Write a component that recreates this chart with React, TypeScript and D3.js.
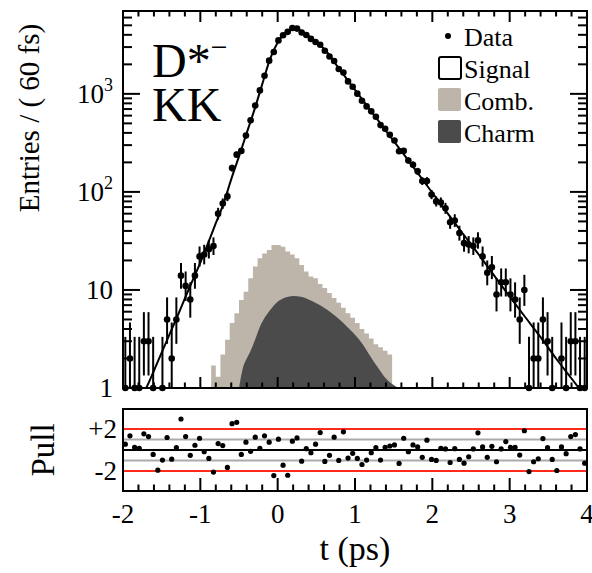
import React, { useEffect, useRef } from 'react';
import * as d3 from 'd3';

// decay time distribution, 60 fs bins from -2 to 4 ps
const T_MIN = -2;
const T_MAX = 4;
const BIN_WIDTH = 0.06;

const dataCounts = [
  1, 2, 1, 1, 3, 3, 1, 0, 1, 5,
  2, 5, 14, 11, 8, 14, 22, 23, 26, 28,
  60, 76, 90, 175, 240, 262, 375, 537, 760, 1085,
  1530, 2180, 2670, 3510, 3960, 4290, 4700, 4630, 4230, 3990,
  3635, 3380, 3170, 2750, 2405, 2165, 1790, 1650, 1340, 1180,
  1005, 850, 745, 663, 585, 480, 440, 382, 334, 260,
  262, 209, 189, 162, 129, 129, 94, 80, 78, 68,
  49, 51, 38, 30, 29, 28, 32, 22, 15, 17,
  9, 12, 12, 9, 8, 5, 10, 1, 2, 2,
  5, 3, 1, 0, 2, 1, 3, 3, 1, 1,
];

const pullValues = [
  0.55, 1.35, 0.26, 0.16, 1.54, 1.28, -0.42, -1.92, -0.96, 1.19,
  -0.87, 0.22, 2.95, 1.28, -0.51, 0.45, 1.12, -0.16, -0.8, -2.1,
  0.61, 0.42, -1.66, 2.5, 2.63, -0.42, 0.74, -0.13, 1.22, 0.16,
  1.35, 0.74, -2.43, 1.03, -1.44, -2.4, 0.84, 1.15, -1.06, 0.13,
  -0.26, 0.55, 1.66, -1.09, -0.51, 1.22, -0.99, 1.73, -0.77, -0.32,
  -0.8, -1.38, -0.96, -0.26, 0.22, -0.96, 0.26, 0.38, 0.48, -1.28,
  1.12, -0.16, 0.48, 0.29, -0.7, 0.93, -0.9, -0.99, 0.16, 0.1,
  -1.19, 0.13, -0.9, -1.25, -0.64, 0.1, 1.63, 0.29, -0.7, 0.35,
  -1.12, 0.1, 0.8, 0.26, 0.26, -0.48, 1.83, -2.05, -1.12, -0.83,
  1.09, 0.22, -0.9, -1.95, 0.29, -0.35, 1.28, 1.47, 0.1, -1.25,
];

// combinatorial background, stacked on top of charm (first filled bin = 19)
const combFirstBin = 19;
const combCounts = [
  1.7, 1.3, 2.2, 3.1, 4.6, 5.8, 7.9, 9.6, 13.2, 17.3,
  21, 23.5, 25.6, 28.7, 28.7, 27.6, 24.6, 23, 21, 18,
  15.4, 13.7, 13.2, 11.5, 10.5, 9.3, 8.3, 7.4, 6.6, 5.8,
  5.2, 4.6, 4.0, 3.6, 3.2, 2.8, 2.6, 2.4, 2.2,
];

// charm background shape
const charmT = [-0.5, -0.45, -0.4, -0.36, -0.3, -0.23, -0.1, 0.0, 0.1, 0.2, 0.3, 0.4, 0.5, 0.6, 0.7, 0.8, 0.9, 1.0, 1.1, 1.2, 1.3, 1.4, 1.5, 1.56];
const charmY = [1.0, 1.6, 2.0, 2.3, 3.0, 4.2, 6.2, 7.6, 8.4, 8.7, 8.5, 8.0, 7.3, 6.6, 5.8, 5.0, 4.2, 3.5, 2.8, 2.1, 1.6, 1.25, 1.07, 1.0];

// total fit
const fitT = [-1.75, -1.7, -1.6, -1.5, -1.4, -1.3, -1.2, -1.1, -1.0, -0.9, -0.8, -0.7, -0.6, -0.5, -0.4, -0.3, -0.2, -0.1, 0.0, 0.1, 0.2, 0.3, 0.4, 0.5, 0.6, 0.8, 1.0, 1.2, 1.4, 1.6, 1.8, 2.0, 2.2, 2.4, 2.6, 2.8, 3.0, 3.2, 3.4, 3.6, 3.8, 4.0];
const fitY = [0.85, 1.0, 1.5, 2.3, 3.5, 5.3, 8.2, 12.5, 19, 30, 48, 76, 135, 230, 400, 690, 1250, 2250, 3350, 4200, 4650, 4400, 3900, 3350, 2880, 1780, 1100, 680, 420, 260, 160, 98, 60, 37, 23, 14, 8.6, 5.3, 3.3, 2.0, 1.25, 0.78];

const xTickValues = [-2, -1, 0, 1, 2, 3, 4];
const yTickValues = [1, 10, 100, 1000];
const yTickLabels = [['1', ''], ['10', ''], ['10', '2'], ['10', '3']];
const pullTickValues = [2, -2];
const pullTickLabels = ['+2', '-2'];
const legendLabels = ['Data', 'Signal', 'Comb.', 'Charm'];

const FONT = '"Liberation Serif", "Times New Roman", serif';
const COMB_COLOR = '#bdb4aa';
const CHARM_COLOR = '#4b4b4b';

export default function App() {
  const svgRef = useRef<SVGSVGElement>(null);

  useEffect(() => {
    if (!svgRef.current) return;
    const svg = d3.select(svgRef.current);
    svg.selectAll('*').remove();

    const left = 123, right = 587;
    const mainTop = 11, mainBottom = 388;
    const pullTop = 409, pullBottom = 491;

    const x = d3.scaleLinear().domain([T_MIN, T_MAX]).range([left, right]);
    const y = d3.scaleLog().domain([1, 7000]).range([mainBottom, mainTop]);
    const yPull = d3.scaleLinear().domain([-3.9, 3.9]).range([pullBottom, pullTop]);

    svg.append('defs').append('clipPath').attr('id', 'mainClip')
      .append('rect').attr('x', left).attr('y', mainTop)
      .attr('width', right - left).attr('height', mainBottom - mainTop);

    const main = svg.append('g').attr('clip-path', 'url(#mainClip)');

    // comb (stack envelope)
    type P = { t: number; v: number };
    const combPts: P[] = combCounts.map((v, k) => ({ t: T_MIN + (combFirstBin + k) * BIN_WIDTH, v }));
    combPts.push({ t: combPts[combPts.length - 1].t + BIN_WIDTH, v: combCounts[combCounts.length - 1] });
    const combArea = d3.area<P>()
      .x((d) => x(d.t)).y0(mainBottom).y1((d) => y(d.v))
      .curve(d3.curveStepAfter);
    main.append('path').datum(combPts).attr('d', combArea).attr('fill', COMB_COLOR);

    // charm
    const charmPts: P[] = charmT.map((t, k) => ({ t, v: charmY[k] }));
    const charmArea = d3.area<P>()
      .x((d) => x(d.t)).y0(mainBottom).y1((d) => y(d.v))
      .curve(d3.curveMonotoneX);
    main.append('path').datum(charmPts).attr('d', charmArea).attr('fill', CHARM_COLOR);

    // fit line
    const fitPts: P[] = fitT.map((t, k) => ({ t, v: fitY[k] }));
    const fitLine = d3.line<P>().x((d) => x(d.t)).y((d) => y(d.v)).curve(d3.curveMonotoneX);
    main.append('path').datum(fitPts).attr('d', fitLine)
      .attr('fill', 'none').attr('stroke', '#000').attr('stroke-width', 2);

    // data with poisson errors
    const pts = dataCounts
      .map((n, i) => ({ n, t: T_MIN + (i + 0.5) * BIN_WIDTH }))
      .filter((d) => d.n > 0);
    const errG = main.append('g').attr('stroke', '#000').attr('stroke-width', 2);
    pts.forEach((d) => {
      const lo = d.n - Math.sqrt(d.n - 0.25);
      const hi = d.n + 1 + Math.sqrt(d.n + 0.75);
      errG.append('line')
        .attr('x1', x(d.t)).attr('x2', x(d.t))
        .attr('y1', lo < 1 ? mainBottom : y(lo)).attr('y2', y(hi));
      errG.append('line')
        .attr('x1', x(d.t - BIN_WIDTH / 2)).attr('x2', x(d.t + BIN_WIDTH / 2))
        .attr('y1', y(d.n)).attr('y2', y(d.n));
    });
    svg.append('g').selectAll('circle').data(pts).join('circle')
      .attr('cx', (d) => x(d.t)).attr('cy', (d) => y(d.n)).attr('r', 3.3).attr('fill', '#000');

    // frames
    const axisG = svg.append('g').attr('stroke', '#000').attr('stroke-width', 2).attr('fill', 'none');
    axisG.append('rect').attr('x', left).attr('y', mainTop).attr('width', right - left).attr('height', mainBottom - mainTop);
    axisG.append('rect').attr('x', left).attr('y', pullTop).attr('width', right - left).attr('height', pullBottom - pullTop);

    // x ticks
    const xMinor = d3.range(T_MIN, T_MAX + 0.001, 0.2).map((v) => +v.toFixed(2));
    xMinor.forEach((t) => {
      const major = Math.abs(t - Math.round(t)) < 1e-6;
      const lenMain = major ? 11 : 5.5;
      const lenPull = major ? 13 : 6.5;
      const px = x(t);
      axisG.append('line').attr('x1', px).attr('x2', px).attr('y1', mainBottom).attr('y2', mainBottom - lenMain);
      axisG.append('line').attr('x1', px).attr('x2', px).attr('y1', mainTop).attr('y2', mainTop + lenMain);
      axisG.append('line').attr('x1', px).attr('x2', px).attr('y1', pullBottom).attr('y2', pullBottom - lenPull);
    });

    // y ticks (log)
    const yMinor: number[] = [];
    for (let dec = 1; dec <= 1000; dec *= 10) {
      for (let m = 1; m <= 9; m++) {
        const v = dec * m;
        if (v <= 7000) yMinor.push(v);
      }
    }
    yMinor.forEach((v) => {
      const major = yTickValues.includes(v);
      const len = major ? 17 : 9;
      const py = y(v);
      axisG.append('line').attr('x1', left).attr('x2', left + len).attr('y1', py).attr('y2', py);
      axisG.append('line').attr('x1', right).attr('x2', right - len).attr('y1', py).attr('y2', py);
    });

    // pull reference lines
    const pullG = svg.append('g');
    [[0, '#000', 2], [1, '#ababab', 2], [-1, '#ababab', 2], [2, '#ff2a1a', 2], [-2, '#ff2a1a', 2]].forEach(([v, c, w]) => {
      pullG.append('line')
        .attr('x1', left + 1).attr('x2', right - 1)
        .attr('y1', yPull(v as number)).attr('y2', yPull(v as number))
        .attr('stroke', c as string).attr('stroke-width', w as number);
    });
    pullG.selectAll('circle').data(pullValues).join('circle')
      .attr('cx', (_, i) => x(T_MIN + (i + 0.5) * BIN_WIDTH))
      .attr('cy', (d) => yPull(d)).attr('r', 2.6).attr('fill', '#000');

    // labels
    const textG = svg.append('g').attr('font-family', FONT).attr('fill', '#000');
    yTickValues.forEach((v, k) => {
      const [base, sup] = yTickLabels[k];
      const t = textG.append('text').attr('x', 113).attr('y', y(v) + 9)
        .attr('text-anchor', 'end').attr('font-size', 27);
      t.append('tspan').text(base);
      if (sup) t.append('tspan').attr('font-size', 18).attr('dy', -12).text(sup);
    });
    pullTickValues.forEach((v, k) => {
      textG.append('text').attr('x', 117).attr('y', yPull(v) + 9)
        .attr('text-anchor', 'end').attr('font-size', 27).text(pullTickLabels[k]);
    });
    xTickValues.forEach((t) => {
      textG.append('text').attr('x', x(t)).attr('y', 523)
        .attr('text-anchor', 'middle').attr('font-size', 27).text(String(t));
    });
    textG.append('text').attr('x', 355).attr('y', 560).attr('text-anchor', 'middle')
      .attr('font-size', 34).text('t (ps)');
    textG.append('text').attr('transform', 'translate(54,450) rotate(-90)')
      .attr('text-anchor', 'middle').attr('font-size', 33).text('Pull');
    textG.append('text').attr('transform', 'translate(39,118) rotate(-90)')
      .attr('text-anchor', 'middle').attr('font-size', 29).text('Entries / ( 60 fs)');

    // D*- KK
    const dLabel = textG.append('text').attr('x', 152).attr('y', 77).attr('font-size', 48);
    dLabel.append('tspan').text('D*');
    dLabel.append('tspan').attr('font-size', 30).attr('dy', -20).text('\u2212');
    textG.append('text').attr('x', 152).attr('y', 121).attr('font-size', 48).text('KK');

    // legend
    const lg = svg.append('g');
    lg.append('circle').attr('cx', 448).attr('cy', 36).attr('r', 3).attr('fill', '#000');
    lg.append('rect').attr('x', 439).attr('y', 57).attr('width', 22).attr('height', 22)
      .attr('fill', '#fff').attr('stroke', '#000').attr('stroke-width', 2).attr('rx', 2);
    lg.append('rect').attr('x', 438).attr('y', 88).attr('width', 23).attr('height', 23)
      .attr('fill', COMB_COLOR).attr('rx', 2);
    lg.append('rect').attr('x', 438).attr('y', 120).attr('width', 23).attr('height', 23)
      .attr('fill', CHARM_COLOR).attr('rx', 2);
    legendLabels.forEach((label, k) => {
      textG.append('text').attr('x', 464).attr('y', 46 + k * 32)
        .attr('font-size', 26).text(label);
    });
  }, []);

  return (
    <svg
      ref={svgRef}
      width={592}
      height={573}
      style={{ position: 'absolute', left: 0, top: 0, background: '#fff' }}
    />
  );
}
